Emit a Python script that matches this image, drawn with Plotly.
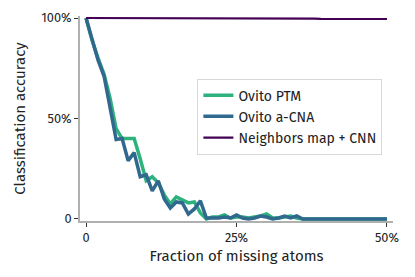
import plotly.graph_objects as go

# fraction of missing atoms (%)
missing_pct = list(range(0, 51))

ptm_acc = [100, 89, 80, 72, 60, 45, 40, 40, 40, 30, 19, 21, 18, 12, 7.5, 11, 9.5, 8, 8.5, 3,
           0, 1, 1, 2, 0.5, 1, 1, 0.5, 1, 1.5, 2.5, 0.5, 0.5, 1, 1.5, 0.5, 0, 0, 0, 0,
           0, 0, 0, 0, 0, 0, 0, 0, 0, 0, 0]
acna_acc = [100, 90, 79, 71, 56, 39.5, 40, 29, 33, 21, 22, 14, 19, 10, 5.5, 8.5, 8, 2.5, 5, 9,
            0.5, 0.5, 0.5, 1, 0.5, 2, 0.5, 0, 0.5, 1.5, 1, 0, 0.5, 1.5, 0.5, 1.5, 0, 0, 0, 0,
            0, 0, 0, 0, 0, 0, 0, 0, 0, 0, 0]
cnn_acc = [100, 100, 100, 100, 100, 100, 100, 100, 100, 100, 100, 100, 100, 100, 100, 100, 99.9,
           99.9, 99.9, 99.9, 99.9, 99.9, 99.9, 99.9, 99.9, 99.8, 99.8, 99.8, 99.8, 99.8, 99.8,
           99.8, 99.8, 99.7, 99.7, 99.7, 99.7, 99.7, 99.7, 99.6, 99.6, 99.6, 99.6, 99.6, 99.6,
           99.6, 99.5, 99.5, 99.5, 99.5, 99.5]

series_names = ["Ovito PTM", "Ovito a-CNA", "Neighbors map + CNN"]
colors = ["#2db27d", "#31688e", "#440154"]
widths = [3.5, 3.5, 2.2]

x_tickvals = [0, 25, 50]
x_ticktext = ["0", "25%", "50%"]
y_tickvals = [0, 50, 100]
y_ticktext = ["0", "50%", "100%"]

fig = go.Figure()
for name, ys, c, w in zip(series_names, [ptm_acc, acna_acc, cnn_acc], colors, widths):
    fig.add_trace(go.Scatter(x=missing_pct, y=ys, mode="lines", name=name,
                             line=dict(color=c, width=w)))

font_family = "Fira Sans, Open Sans, sans-serif"
# page body has an 8px margin, so the plot area is offset accordingly
fig.update_layout(
    width=415, height=277,
    margin=dict(l=72, r=30, t=8, b=64, autoexpand=False),
    paper_bgcolor="white", plot_bgcolor="white",
    font=dict(family=font_family, size=12.8, color="#222"),
    showlegend=True,
    legend=dict(x=0.375, y=0.695, xanchor="left", yanchor="top",
                bgcolor="rgba(255,255,255,0.9)", bordercolor="#d8d8d8", borderwidth=1,
                font=dict(size=14), tracegroupgap=0, itemwidth=30),
)
fig.update_xaxes(range=[-1, 51], tickvals=x_tickvals, ticktext=x_ticktext,
                 showgrid=False, zeroline=False, showline=True, linecolor="#b0b0b0", linewidth=1.5,
                 ticks="outside", ticklen=4, tickcolor="#333", tickwidth=1,
                 title=dict(text="Fraction of missing atoms", standoff=6))
fig.update_yaxes(range=[-1, 101], tickvals=y_tickvals, ticktext=y_ticktext,
                 showgrid=False, zeroline=False, showline=True, linecolor="#b0b0b0", linewidth=1.5,
                 ticks="outside", ticklen=4, tickcolor="#333", tickwidth=1,
                 title=dict(text="Classification accuracy", standoff=12))

fig.write_html("out.html")
